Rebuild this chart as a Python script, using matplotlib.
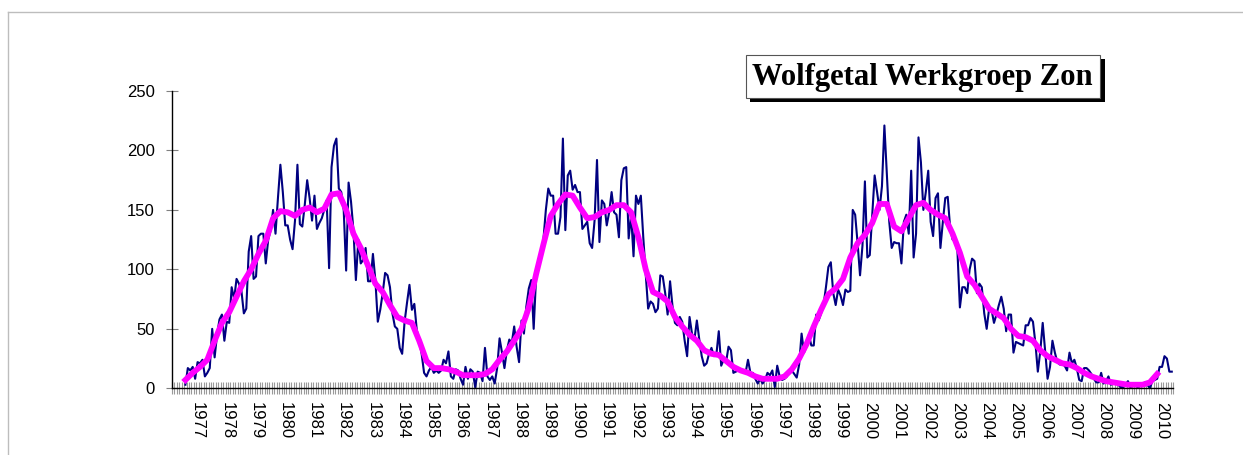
import matplotlib
matplotlib.use('Agg')
import matplotlib.pyplot as plt
from matplotlib.patches import Rectangle
from matplotlib.lines import Line2D
import numpy as np

wolfgetal = [
    3, 17, 15, 18, 8, 22, 21, 24, 10, 13, 17, 50,
    26, 45, 58, 62, 40, 56, 55, 85, 75, 92, 88, 82,
    63, 67, 115, 128, 92, 94, 128, 130, 130, 105, 125, 133,
    150, 130, 160, 188, 165, 137, 137, 125, 117, 141, 188, 138,
    136, 154, 175, 160, 141, 162, 134, 139, 143, 150, 158, 101,
    186, 204, 210, 168, 165, 150, 99, 173, 157, 133, 91, 125,
    105, 108, 118, 90, 90, 113, 91, 56, 66, 80, 97, 95,
    85, 63, 52, 50, 34, 29, 56, 72, 87, 66, 71, 49,
    40, 29, 13, 10, 15, 18, 13, 15, 13, 15, 24, 21,
    31, 10, 8, 16, 15, 8, 3, 18, 8, 16, 14, 1,
    14, 13, 6, 34, 10, 7, 10, 4, 17, 42, 30, 17,
    32, 41, 38, 52, 35, 22, 57, 46, 69, 84, 91, 50,
    94, 108, 110, 125, 150, 168, 162, 162, 130, 130, 144, 210,
    133, 179, 183, 167, 171, 165, 165, 134, 137, 140, 122, 118,
    141, 192, 123, 158, 155, 137, 148, 165, 148, 146, 127, 175,
    185, 186, 126, 146, 111, 162, 155, 162, 127, 96, 67, 73,
    71, 64, 67, 95, 94, 80, 62, 90, 69, 55, 53, 60,
    56, 40, 27, 60, 46, 41, 57, 41, 27, 19, 21, 29,
    34, 27, 28, 48, 19, 24, 22, 35, 32, 13, 14, 15,
    15, 15, 13, 24, 13, 13, 8, 4, 8, 4, 7, 13,
    11, 15, 1, 19, 10, 7, 8, 10, 15, 15, 12, 9,
    20, 46, 30, 35, 45, 36, 36, 62, 57, 63, 70, 85,
    102, 106, 80, 70, 83, 78, 70, 83, 81, 82, 150, 146,
    122, 95, 120, 174, 110, 112, 145, 179, 165, 150, 170, 221,
    180, 140, 118, 123, 122, 122, 105, 140, 146, 130, 183, 110,
    130, 211, 190, 150, 165, 183, 140, 128, 160, 164, 118, 140,
    160, 161, 135, 125, 124, 115, 68, 85, 85, 80, 100, 109,
    107, 80, 88, 85, 63, 50, 67, 66, 55, 62, 70, 77,
    67, 48, 62, 62, 30, 39, 38, 37, 36, 53, 53, 59,
    56, 38, 14, 31, 55, 32, 8, 18, 40, 30, 22, 20,
    20, 19, 15, 30, 21, 24, 17, 7, 6, 17, 17, 15,
    12, 8, 5, 5, 13, 4, 6, 10, 3, 4, 5, 3,
    1, 1, 3, 6, 1, 2, 3, 1, 2, 3, 5, 3,
    0, 6, 7, 8, 18, 18, 27, 25, 14, 14,
]

afgevlakt = [
    7, 13, 18, 24, 40, 55, 64, 77, 90, 100, 113, 124,
    143, 149, 148, 145, 150, 152, 148, 151, 163, 164, 150, 130,
    118, 103, 88, 81, 70, 60, 57, 55, 40, 23, 17, 17,
    16, 14, 11, 11, 11, 12, 16, 24, 31, 40, 50, 68,
    96, 121, 145, 155, 163, 162, 152, 143, 144, 148, 150, 154,
    154, 148, 127, 100, 81, 78, 73, 60, 52, 45, 40, 32,
    29, 28, 23, 18, 15, 13, 10, 8, 8, 8, 10, 16,
    25, 37, 52, 66, 79, 84, 92, 110, 122, 129, 139, 155,
    155, 136, 132, 143, 154, 156, 150, 146, 143, 130, 114, 94,
    87, 77, 67, 63, 59, 50, 44, 43, 40, 32, 27, 24,
    21, 20, 17, 13, 10, 8, 6, 5, 4, 3, 3, 3,
    5, 12,
]

jaren = [str(j) for j in range(1977, 2011)]

n_cat = 411      # aantal maandcategorieen op de as
eerste = 5       # categorie van de eerste meting
eerste_jaar = 10 # categorie van januari 1977

plt.rcParams['font.family'] = 'Liberation Sans'
W, H = 1243, 455
fig = plt.figure(figsize=(W / 100, H / 100), dpi=100)

# lichtgrijze rand om de grafiek
fig.add_artist(Line2D([8 / W, 8 / W], [0, 1 - 12 / H], transform=fig.transFigure, color='#bdbdbd', lw=1))
fig.add_artist(Line2D([8 / W, 1], [1 - 12 / H, 1 - 12 / H], transform=fig.transFigure, color='#bdbdbd', lw=1))

ax = fig.add_axes([172 / W, 1 - 388.3 / H, 1001 / W, 297.3 / H])

x_maand = np.arange(len(wolfgetal)) + eerste + 0.5
x_afg = np.arange(len(afgevlakt)) * 3 + eerste + 0.5
ax.plot(x_maand, wolfgetal, color='#000080', lw=1.5)
ax.plot(x_afg, afgevlakt, color='#FF00FF', lw=4.2, solid_joinstyle='round')

ax.set_xlim(0, n_cat)
ax.set_ylim(0, 250)
ax.set_yticks(range(0, 251, 50))
ax.set_xticks(np.arange(len(jaren)) * 12 + eerste_jaar + 0.5)
ax.set_xticklabels(jaren, rotation=-90)
ax.set_xticks(np.arange(0, n_cat + 1), minor=True)
ax.tick_params(axis='x', which='major', length=0, pad=10, labelsize=12)
ax.tick_params(axis='x', which='minor', direction='inout', length=9, width=0.8, color='#9a9a9a')
ax.tick_params(axis='y', direction='inout', length=9, width=0.8, color='#808080', pad=8, labelsize=12)
for s in ['top', 'right']:
    ax.spines[s].set_visible(False)
for s in ['left', 'bottom']:
    ax.spines[s].set_linewidth(1.0)
    ax.spines[s].set_color('black')

# titel in kader met schaduw
def kader(x0, y0, x1, y1, **kw):
    r = Rectangle((x0 / W, 1 - y1 / H), (x1 - x0) / W, (y1 - y0) / H, transform=fig.transFigure, **kw)
    fig.add_artist(r)

kader(749.5, 59, 1104.5, 102.3, facecolor='black', edgecolor='none')
kader(745.7, 55, 1100, 98.3, facecolor='white', edgecolor='#555555', lw=0.8)
fig.text(922 / W, 1 - 77.5 / H, 'Wolfgetal Werkgroep Zon', family='Liberation Serif',
         fontweight='bold', fontsize=22.1, ha='center', va='center')

fig.savefig('out.png', dpi=100)
